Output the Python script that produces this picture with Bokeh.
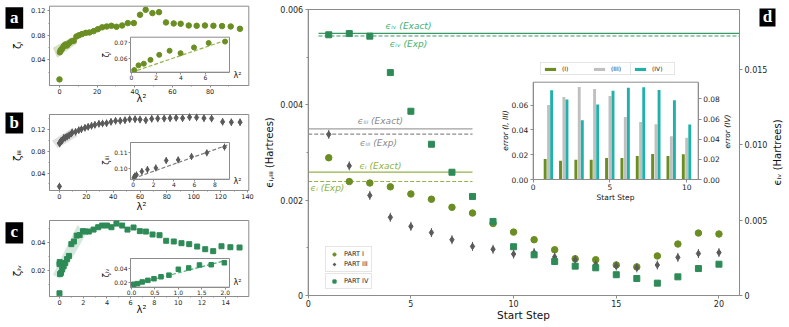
import numpy as np
from bokeh.plotting import figure
from bokeh.layouts import row, column
from bokeh.models import (Range1d, LinearAxis, FixedTicker, Label, Legend, LegendItem,
                          NumeralTickFormatter, CustomJSTickFormatter, ColumnDataSource,
                          BoxAnnotation)
from bokeh.transform import dodge
from bokeh.embed import file_html
from bokeh.resources import INLINE

# ---------------- data: panel a (PART I) ----------------
A_ZERO_X = [0.0]
A_ZERO_Y = [0.008]
A_IN_X = [0.22, 0.57, 1.0, 1.54, 2.25, 3.09, 3.98, 5.07, 6.26, 7.59]
A_IN_Y = [0.0522, 0.0553, 0.0564, 0.0589, 0.0622, 0.0649, 0.0633, 0.0671, 0.0700, 0.0709]
A_REST_X = [9.0, 10.4, 12.0, 14.0, 15.9, 18.2, 20.4, 22.7, 25.1, 27.6, 30.3, 33.3, 36.3, 39.5,
            42.8, 45.8, 49.4, 52.9, 56.6, 60.7, 64.4, 68.7, 72.9, 77.3, 81.8, 86.4, 91.0, 95.9]
A_REST_Y = [0.078, 0.080, 0.082, 0.084, 0.0846, 0.0868, 0.090, 0.093, 0.0944, 0.0955, 0.0939,
            0.096, 0.0999, 0.0999, 0.1135, 0.1216, 0.1162, 0.1178, 0.101, 0.0993, 0.0988, 0.096,
            0.0955, 0.096, 0.0955, 0.095, 0.0944, 0.0906]
A_FIT_X = [0.0, 7.86]
A_FIT_Y = [0.0507, 0.0724]
A_BAND_X = [-3.5, -1.2, 9.4, 7.3]
A_BAND_Y = [0.0596, 0.0433, 0.0672, 0.0781]

# ---------------- data: panel b (PART III) ----------------
B_ZERO_X = [0.0]
B_ZERO_Y = [0.0155]
B_IN_X = [0.07, 0.16, 0.33, 0.85, 1.4, 2.22, 3.24, 4.41, 5.72, 7.22, 8.95]
B_IN_Y = [0.0947, 0.0957, 0.0963, 0.0984, 0.0996, 0.1006, 0.1051, 0.1055, 0.1076, 0.1098, 0.1133]
B_REST_X = [9.5, 12.0, 14.4, 16.4, 19.0, 21.4, 23.9, 26.4, 29.4, 32.1, 35.1, 38.4, 41.8, 45.3,
            48.8, 52.3, 56.3, 60.0, 64.3, 68.7, 73.2, 78.0, 82.4, 86.9, 91.7, 96.9, 102.1,
            107.6, 113.3, 121.5, 128.0, 134.5]
B_REST_Y = [0.1151, 0.1163, 0.1194, 0.1212, 0.1237, 0.1255, 0.1274, 0.1292, 0.1311, 0.1317,
            0.1323, 0.1348, 0.1366, 0.1366, 0.1378, 0.1397, 0.1397, 0.1391, 0.1378, 0.1403,
            0.1409, 0.1409, 0.1415, 0.1421, 0.1415, 0.1434, 0.1428, 0.1415, 0.1409, 0.1348,
            0.1341, 0.1341]
B_FIT_X = [0.0, 9.3]
B_FIT_Y = [0.0941, 0.1147]
B_BAND_X = [-5.5, -1.5, 13.5, 10.0]
B_BAND_Y = [0.100, 0.086, 0.108, 0.124]

# ---------------- data: panel c (PART IV) ----------------
C_ZERO_X = [0.0]
C_ZERO_Y = [0.0035]
C_EXTRA_X = [0.0, 0.02]
C_EXTRA_Y = [0.0243, 0.0258]
C_IN_X = [0.05, 0.13, 0.23, 0.35, 0.48, 0.63, 0.8, 1.0, 1.22, 1.45, 1.7, 1.98]
C_IN_Y = [0.0172, 0.0181, 0.0205, 0.0228, 0.0251, 0.0279, 0.0302, 0.0386, 0.0405, 0.0447,
          0.0451, 0.0479]
C_REST_X = [2.2, 2.47, 2.87, 3.26, 3.6, 4.0, 4.38, 4.8, 5.28, 5.73, 6.24, 6.77, 7.28, 7.84,
            8.43, 8.99, 9.63, 10.28, 10.93, 11.6, 12.28, 12.95, 13.65, 14.4, 15.17]
C_REST_Y = [0.0476, 0.0476, 0.049, 0.0507, 0.0519, 0.0519, 0.0507, 0.0533, 0.0519, 0.049,
            0.0505, 0.0479, 0.0476, 0.0455, 0.045, 0.041, 0.0405, 0.0393, 0.0386, 0.0369,
            0.035, 0.0336, 0.0371, 0.0364, 0.0362]
C_FIT_X = [0.0, 2.0]
C_FIT_Y = [0.016, 0.051]
C_BAND_X = [-0.55, 0.08, 2.19, 1.54]
C_BAND_Y = [0.0167, 0.0138, 0.0452, 0.0524]

# ---------------- data: panel d ----------------
D_STEPS = [1, 2, 3, 4, 5, 6, 7, 8, 9, 10, 11, 12, 13, 14, 15, 16, 17, 18, 19, 20]
D_PART_I = [0.00289, 0.00239, 0.00236, 0.00228, 0.00213, 0.00202, 0.00185, 0.00173, 0.00151,
            0.00133, 0.00117, 0.00096, 0.00077, 0.00075, 0.00064, 0.00060, 0.00083, 0.00108,
            0.00131, 0.00129]
D_PART_III = [0.00338, 0.00272, 0.00210, 0.00164, 0.00145, 0.00132, 0.00117, 0.00103, 0.00097,
              0.00087, 0.00090, 0.00081, 0.00075, 0.00065, 0.00062, 0.00058, 0.00064, 0.00080,
              0.00088, 0.00090]
D_PART_IV = [0.01732, 0.01740, 0.01723, 0.01481, 0.01224, 0.01005, 0.00819, 0.00658, 0.00492,
             0.00324, 0.00270, 0.00226, 0.00195, 0.00184, 0.00138, 0.00113, 0.00082, 0.00124,
             0.00179, 0.00208]
E_IV_EXACT = 0.01741
E_IV_EXP = 0.01724
E_III_EXACT = 0.003497
E_III_EXP = 0.003384
E_I_EXACT = 0.002587
E_I_EXP = 0.002392
LINE_X_IV = [0.5, 21.0]
LINE_X_I_III = [0.0, 8.0]

INSET_STEPS = [1, 2, 3, 4, 5, 6, 7, 8, 9, 10]
ERR_I = [0.0165, 0.0152, 0.0160, 0.0160, 0.0173, 0.0173, 0.0190, 0.0205, 0.0190, 0.0203]
ERR_III = [0.0600, 0.0664, 0.0745, 0.0729, 0.0672, 0.0504, 0.0463, 0.0446, 0.0348, 0.0336]
ERR_IV = [0.0885, 0.0795, 0.0588, 0.0744, 0.0880, 0.0911, 0.0917, 0.0888, 0.0786, 0.0547]

# ---------------- style ----------------
FONT = "DejaVu Sans"
AXC = "#8c8c8c"
OLIVE = "#6b8e23"
DGRAY = "#5a5a5a"
SEA = "#2e8b57"
TEAL = "#20b2aa"
SILVER = "#c0c0c0"
LINE_I = "#93b347"
TXT_I = "#8db33a"
LINE_III = "#a0a0a0"
TXT_III = "#8a8a8a"
LINE_IV = "#3a9a66"
TXT_IV = "#3cb371"


class Canvas:
    """A figure whose frame covers its whole canvas; page-pixel helpers."""

    def __init__(self, ox, oy, w, h, box, xr, yr):
        self.ox, self.oy, self.w, self.h = ox, oy, w, h
        x0, x1, y0, y1 = self.cbox(box)
        self.p = figure(width=w, height=h,
                        x_range=span_range(x0, x1, w, *xr),
                        y_range=span_range(y0, y1, h, *yr),
                        x_axis_location=None, y_axis_location=None,
                        output_backend="svg", toolbar_location=None,
                        min_border=0, min_border_left=0, min_border_right=0,
                        min_border_top=0, min_border_bottom=0)
        self.p.outline_line_color = None
        self.p.grid.visible = False
        self.p.background_fill_color = "white"
        self.p.border_fill_color = "white"

    def cx(self, x):
        return x - self.ox

    def cy(self, y):
        return self.oy + self.h - y

    def cbox(self, box):
        ax0, ax1, atop, abot = box
        return (self.cx(ax0), self.cx(ax1), self.cy(abot), self.cy(atop))

    def text(self, x, y, t, size, color="#111111", angle=0.0, italic=False,
             font=FONT, bold=False):
        self.p.add_layout(Label(x=self.cx(x), y=self.cy(y), x_units="screen",
                                y_units="screen", text=t, text_font=font,
                                text_font_size=size, text_color=color, angle=angle,
                                text_align="center", text_baseline="middle",
                                text_font_style=("bold" if bold else
                                                 ("italic" if italic else "normal"))))

    def letter(self, ch, box):
        x0, x1, y0, y1 = self.cbox(box)
        self.p.add_layout(BoxAnnotation(left=x0, right=x1, bottom=y0, top=y1,
                                        left_units="screen", right_units="screen",
                                        bottom_units="screen", top_units="screen",
                                        fill_color="black", fill_alpha=1.0,
                                        line_color=None))
        self.text((box[0] + box[1]) / 2, (box[2] + box[3]) / 2 - 1, ch, "17px",
                  color="white", font="Liberation Serif", bold=True)


def span_range(lo_px, hi_px, full_px, d0, d1):
    per = (d1 - d0) / (hi_px - lo_px)
    start = d0 - lo_px * per
    return Range1d(start, start + full_px * per)


def style_axis(ax, size, tick_out=2, standoff=1, minor_out=None):
    ax.axis_line_color = AXC
    ax.major_tick_line_color = AXC
    ax.minor_tick_line_color = AXC
    ax.major_tick_in = 0
    ax.major_tick_out = tick_out
    ax.minor_tick_in = 0
    ax.minor_tick_out = minor_out if minor_out is not None else max(1, tick_out - 1)
    ax.major_label_text_font = FONT
    ax.major_label_text_font_size = size
    ax.major_label_text_color = "#262626"
    ax.major_label_standoff = standoff


def fixed_axis(p, side, loc, bounds, ticks, fmt, size, xn="default", yn="default",
               minor=(), tick_out=2, standoff=1):
    ax = LinearAxis(x_range_name=xn, y_range_name=yn, fixed_location=loc,
                    bounds=tuple(bounds), ticker=FixedTicker(ticks=list(ticks),
                                                             minor_ticks=list(minor)),
                    formatter=fmt)
    style_axis(ax, size, tick_out=tick_out, standoff=standoff)
    p.add_layout(ax, side)
    return ax


def frame_box(p, xr, yr, xn="default", yn="default", fill=None):
    p.quad(left=[xr[0]], right=[xr[1]], bottom=[yr[0]], top=[yr[1]], x_range_name=xn,
           y_range_name=yn, fill_color=fill, line_color=AXC, line_width=1)


def add_inset_ranges(c, name, box, xr, yr):
    x0, x1, y0, y1 = c.cbox(box)
    xn, yn = name + "_x", name + "_y"
    c.p.extra_x_ranges[xn] = span_range(x0, x1, c.w, *xr)
    c.p.extra_y_ranges[yn] = span_range(y0, y1, c.h, *yr)
    return xn, yn


F2 = NumeralTickFormatter(format="0.00")
F0 = NumeralTickFormatter(format="0")
F1 = NumeralTickFormatter(format="0.0")


def small_panel(oy, h, box, xr, yr, xt, xmin, yt, ymin):
    c = Canvas(0, oy, 262, h, box, xr, yr)
    frame_box(c.p, xr, yr)
    fixed_axis(c.p, "below", yr[0], xr, xt, F0, "6.5px", minor=xmin, tick_out=2, standoff=1)
    fixed_axis(c.p, "left", xr[0], yr, yt, F2, "6.5px", minor=ymin, tick_out=2, standoff=2)
    return c


def small_inset(c, name, box, xr, yr, xt, yt, xfmt):
    xn, yn = add_inset_ranges(c, name, box, xr, yr)
    frame_box(c.p, xr, yr, xn, yn, fill="white")
    fixed_axis(c.p, "below", yr[0], xr, xt, xfmt, "6px", xn, yn, tick_out=2, standoff=1)
    fixed_axis(c.p, "left", xr[0], yr, yt, F2, "6px", xn, yn, tick_out=2, standoff=1)
    return xn, yn


# ---------------- panel a ----------------
A_XR, A_YR = (-5.3, 100.6), (-0.002, 0.1275)
ca = small_panel(0, 108, (49, 248.3, 5.7, 85), A_XR, A_YR, [0, 20, 40, 60, 80],
                 [10, 30, 50, 70, 90], [0.04, 0.08, 0.12], [0.02, 0.06, 0.10])
pa = ca.p
pa.patch(A_BAND_X, A_BAND_Y, fill_color=OLIVE, fill_alpha=0.28, line_color=None)
pa.scatter(A_ZERO_X + A_IN_X + A_REST_X, A_ZERO_Y + A_IN_Y + A_REST_Y, marker="circle",
           size=5.5, color=OLIVE)
A_IX, A_IY = (-0.08, 7.95), (0.0508, 0.0738)
xn, yn = small_inset(ca, "ia", (130, 229, 36.7, 71.7), A_IX, A_IY, [0, 2, 4, 6],
                     [0.06, 0.07], F0)
pa.line(A_FIT_X, A_FIT_Y, x_range_name=xn, y_range_name=yn, line_color=LINE_I,
        line_dash="4 2", line_width=1.2)
pa.scatter(A_IN_X, A_IN_Y, x_range_name=xn, y_range_name=yn, marker="circle", size=5,
           color=OLIVE)
ca.text(16.7, 45, "ζᵢ", "10px", angle=np.pi / 2)
ca.text(141, 98, "λ²", "10px")
ca.text(106, 54, "ζᵢ", "8px", angle=np.pi / 2)
ca.text(237, 75, "λ²", "8px")
ca.letter("a", (5, 22.7, 6.7, 28.3))

# ---------------- panel b ----------------
B_XR, B_YR = (-7.4, 141.0), (0.008, 0.1483)
cb = small_panel(108, 107, (49, 248.3, 114, 190), B_XR, B_YR,
                 [0, 20, 40, 60, 80, 100, 120, 140], [10, 30, 50, 70, 90, 110, 130],
                 [0.04, 0.08, 0.12], [0.02, 0.06, 0.10, 0.14])
pb = cb.p
pb.patch(B_BAND_X, B_BAND_Y, fill_color="#9a9a9a", fill_alpha=0.3, line_color=None)
bx = B_ZERO_X + B_IN_X + B_REST_X
by = B_ZERO_Y + B_IN_Y + B_REST_Y
pb.scatter(bx, by, marker="dash", angle=np.pi / 2, size=7.5, line_color=DGRAY, line_width=1)
pb.scatter(bx, by, marker="diamond", size=6.2, color=DGRAY)
B_IX, B_IY = (-0.26, 9.44), (0.0937, 0.1161)
xn, yn = small_inset(cb, "ib", (130, 229, 142, 178.7), B_IX, B_IY, [0, 2, 4, 6, 8],
                     [0.10, 0.11], F0)
pb.line(B_FIT_X, B_FIT_Y, x_range_name=xn, y_range_name=yn, line_color="#808080",
        line_dash="4 2", line_width=1.2)
pb.scatter(B_IN_X, B_IN_Y, x_range_name=xn, y_range_name=yn, marker="dash",
           angle=np.pi / 2, size=7, line_color=DGRAY, line_width=1)
pb.scatter(B_IN_X, B_IN_Y, x_range_name=xn, y_range_name=yn, marker="diamond", size=5.5,
           color=DGRAY)
cb.text(16.7, 155, "ζᵢᵢᵢ", "10px", angle=np.pi / 2)
cb.text(141, 205.7, "λ²", "10px")
cb.text(106, 160, "ζᵢᵢᵢ", "8px", angle=np.pi / 2)
cb.text(237, 181, "λ²", "8px")
cb.letter("b", (5, 22.7, 112, 133))

# ---------------- panel c ----------------
C_XR, C_YR = (-0.84, 15.95), (0.0012, 0.0555)
cc = small_panel(215, 112, (49, 248.3, 220, 296), C_XR, C_YR,
                 [0, 2, 4, 6, 8, 10, 12, 14], [1, 3, 5, 7, 9, 11, 13, 15],
                 [0.02, 0.04], [0.01, 0.03, 0.05])
pc = cc.p
pc.patch(C_BAND_X, C_BAND_Y, fill_color=SEA, fill_alpha=0.2, line_color=None)
pc.scatter(C_ZERO_X + C_EXTRA_X + C_IN_X + C_REST_X, C_ZERO_Y + C_EXTRA_Y + C_IN_Y + C_REST_Y,
           marker="square", size=5, color=SEA)
C_IX, C_IY = (-0.02, 2.09), (0.013, 0.054)
xn, yn = small_inset(cc, "ic", (130, 229, 258, 286.7), C_IX, C_IY, [0, 0.5, 1.0, 1.5, 2.0],
                     [0.02, 0.04], F1)
pc.line(C_FIT_X, C_FIT_Y, x_range_name=xn, y_range_name=yn, line_color=TXT_IV,
        line_dash="4 2", line_width=1.2)
pc.scatter(C_IN_X, C_IN_Y, x_range_name=xn, y_range_name=yn, marker="square", size=4.5,
           color=SEA)
cc.text(16.7, 270, "ζᵢᵥ", "10px", angle=np.pi / 2)
cc.text(141, 309, "λ²", "10px")
cc.text(106, 272.5, "ζᵢᵥ", "8px", angle=np.pi / 2)
cc.text(237, 281.7, "λ²", "8px")
cc.letter("c", (5, 22.7, 221.7, 243))

# ---------------- panel d ----------------
D_XR, D_YR, D_YR_IV = (0, 21), (0, 0.006), (0, 0.019)
D_BOX = (307.7, 739, 9, 295)
cd = Canvas(262, 0, 527, 327, D_BOX, D_XR, D_YR)
pdm = cd.p
_, _, by0, by1 = cd.cbox(D_BOX)
pdm.extra_y_ranges["iv"] = span_range(by0, by1, cd.h, *D_YR_IV)
frame_box(pdm, D_XR, D_YR)
fmt3 = CustomJSTickFormatter(code="return tick == 0 ? '0' : tick.toFixed(3)")
fixed_axis(pdm, "below", D_YR[0], D_XR, [0, 5, 10, 15, 20], F0, "8px", tick_out=3, standoff=1)
fixed_axis(pdm, "left", D_XR[0], D_YR, [0, 0.002, 0.004, 0.006], fmt3, "8px",
           minor=[0.001, 0.003, 0.005], tick_out=3, standoff=2)
fixed_axis(pdm, "right", D_XR[1], D_YR_IV, [0, 0.005, 0.01, 0.015], fmt3, "8px",
           yn="iv", tick_out=3, standoff=2)

pdm.line(LINE_X_IV, [E_IV_EXACT, E_IV_EXACT], y_range_name="iv", line_color=LINE_IV,
         line_width=1.2)
pdm.line(LINE_X_IV, [E_IV_EXP, E_IV_EXP], y_range_name="iv", line_color=LINE_IV,
         line_width=1.2, line_dash="4 2")
pdm.line(LINE_X_I_III, [E_III_EXACT, E_III_EXACT], line_color=LINE_III, line_width=1.2)
pdm.line(LINE_X_I_III, [E_III_EXP, E_III_EXP], line_color="#8c8c8c", line_width=1.2,
         line_dash="4 2")
pdm.line(LINE_X_I_III, [E_I_EXACT, E_I_EXACT], line_color=LINE_I, line_width=1.2)
pdm.line(LINE_X_I_III, [E_I_EXP, E_I_EXP], line_color=LINE_I, line_width=1.2,
         line_dash="4 2")

r1 = pdm.scatter(D_STEPS, D_PART_I, marker="circle", size=6.5, color=OLIVE)
r3b = pdm.scatter(D_STEPS, D_PART_III, marker="dash", angle=np.pi / 2, size=9,
                  line_color=DGRAY, line_width=1)
r3a = pdm.scatter(D_STEPS, D_PART_III, marker="diamond", size=6.5, color=DGRAY)
r4 = pdm.scatter(D_STEPS, D_PART_IV, marker="square", size=6, color=SEA, y_range_name="iv")

EPS_LABELS = [
    (408, 25, "ϵᵢᵥ (Exact)", TXT_IV),
    (408, 43, "ϵᵢᵥ (Exp)", TXT_IV),
    (380, 120, "ϵᵢᵢᵢ (Exact)", TXT_III),
    (378, 142, "ϵᵢᵢᵢ (Exp)", TXT_III),
    (380, 165, "ϵᵢ (Exact)", TXT_I),
    (327, 187, "ϵᵢ (Exp)", TXT_I),
]
for lx, ly, lt, lc in EPS_LABELS:
    cd.text(lx, ly, lt, "9px", color=lc, italic=True)

cd.text(523, 314, "Start Step", "10.5px")
cd.text(269, 152, "ϵᵢ,ᵢᵢᵢ (Hartrees)", "10px", angle=np.pi / 2)
cd.text(777, 152, "ϵᵢᵥ (Hartrees)", "10px", angle=np.pi / 2)


def legend_style(lg, size):
    lg.label_text_font = FONT
    lg.label_text_font_size = size
    lg.label_text_color = "#222222"
    lg.border_line_color = "#cccccc"
    lg.background_fill_color = "white"
    lg.background_fill_alpha = 1.0
    lg.margin = 0
    lg.padding = 3
    lg.spacing = 2
    lg.label_height = 8
    lg.glyph_height = 8
    lg.glyph_width = 10
    lg.label_standoff = 5


leg1 = Legend(items=[LegendItem(label="PART I", renderers=[r1]),
                     LegendItem(label="PART III", renderers=[r3b, r3a])],
              location=(cd.cx(325), cd.cy(272)))
legend_style(leg1, "6.5px")
leg2 = Legend(items=[LegendItem(label="PART IV", renderers=[r4])],
              location=(cd.cx(325), cd.cy(289)))
legend_style(leg2, "6.5px")
pdm.add_layout(leg1)
pdm.add_layout(leg2)

# inset bar chart
D_IX, D_IYL, D_IYR = (0, 10.75), (0, 0.0784), (0, 0.0966)
D_IBOX = (532.7, 697.7, 81.7, 179)
xn, yn = add_inset_ranges(cd, "id", D_IBOX, D_IX, D_IYL)
_, _, iy0, iy1 = cd.cbox(D_IBOX)
pdm.extra_y_ranges["id_yr"] = span_range(iy0, iy1, cd.h, *D_IYR)
frame_box(pdm, D_IX, D_IYL, xn, yn, fill="white")
src = ColumnDataSource(dict(step=INSET_STEPS, ei=ERR_I, eiii=ERR_III, eiv=ERR_IV))
b1 = pdm.vbar(x=dodge("step", -0.22), top="ei", width=0.19, source=src, x_range_name=xn,
              y_range_name=yn, fill_color=OLIVE, line_color=None)
b3 = pdm.vbar(x=dodge("step", 0.0), top="eiii", width=0.19, source=src, x_range_name=xn,
              y_range_name=yn, fill_color=SILVER, line_color=None)
b4 = pdm.vbar(x=dodge("step", 0.2), top="eiv", width=0.19, source=src, x_range_name=xn,
              y_range_name="id_yr", fill_color=TEAL, line_color=None)
fixed_axis(pdm, "below", D_IYL[0], D_IX, [0, 5, 10], F0, "7.5px", xn, yn, tick_out=3,
           standoff=1)
fixed_axis(pdm, "left", D_IX[0], D_IYL, [0, 0.02, 0.04, 0.06], F2, "7.5px", xn, yn,
           tick_out=3, standoff=2)
fixed_axis(pdm, "right", D_IX[1], D_IYR, [0, 0.02, 0.04, 0.06, 0.08], F2, "7.5px", xn,
           "id_yr", tick_out=3, standoff=2)
cd.text(615, 197, "Start Step", "7.5px")
cd.text(505, 130, "error (I, III)", "7.5px", angle=np.pi / 2, italic=True)
cd.text(727, 131, "error (IV)", "7.5px", angle=np.pi / 2, italic=True)

leg3 = Legend(items=[LegendItem(label="(I)", renderers=[b1]),
                     LegendItem(label="(III)", renderers=[b3])],
              orientation="horizontal", location=(cd.cx(540), cd.cy(75)))
legend_style(leg3, "6px")
leg3.glyph_height = 4
leg3.glyph_width = 14
leg3.label_height = 6
leg3.spacing = 10
leg3.padding = 2
leg4 = Legend(items=[LegendItem(label="(IV)", renderers=[b4])], orientation="horizontal",
              location=(cd.cx(630), cd.cy(75)))
legend_style(leg4, "6px")
leg4.glyph_height = 4
leg4.glyph_width = 14
leg4.label_height = 6
leg4.padding = 2
pdm.add_layout(leg3)
pdm.add_layout(leg4)

cd.letter("d", (759, 775, 8, 26))

layout = row(column(ca.p, cb.p, cc.p), cd.p)
open("out.html", "w").write(file_html(layout, INLINE))
